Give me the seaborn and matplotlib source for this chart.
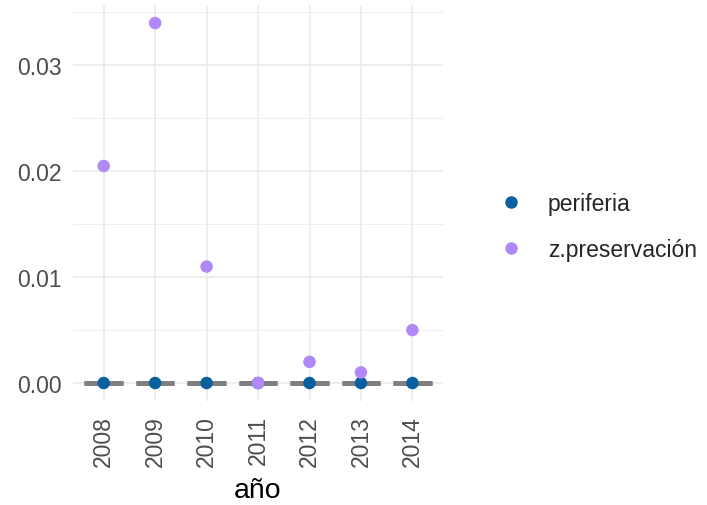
import pandas as pd
import matplotlib.pyplot as plt
import seaborn as sns

# data
years = ["2008", "2009", "2010", "2011", "2012", "2013", "2014"]
periferia = [0.0, 0.0, 0.0, 0.0, 0.0, 0.0, 0.0]
z_preservacion = [0.0205, 0.034, 0.011, 0.0, 0.002, 0.001, 0.005]
baseline = [0.0, 0.0, 0.0, 0.0, 0.0, 0.0, 0.0]

groups = ["periferia", "z.preservación"]
colors = ["#08609e", "#b088f8"]

df = pd.DataFrame({
    "año": years * 2,
    "valor": periferia + z_preservacion,
    "grupo": [groups[0]] * len(years) + [groups[1]] * len(years),
})
base_df = pd.DataFrame({"año": years, "valor": baseline})

sns.set_style("white")
plt.rcParams["font.family"] = ["Liberation Sans", "DejaVu Sans"]

fig = plt.figure(figsize=(7.07, 5.06), dpi=100)
ax = fig.add_axes([0.103, 0.2055, 0.524, 0.7825])

# grey flat boxes at zero
sns.boxplot(data=base_df, x="año", y="valor", order=years, width=0.75,
            color="#7f7f7f", linecolor="#7f7f7f", linewidth=3.4,
            showfliers=False, ax=ax, zorder=2)

sns.stripplot(data=df, x="año", y="valor", hue="grupo", order=years,
              hue_order=groups, palette=colors, jitter=False, size=9,
              linewidth=0, ax=ax, zorder=3)

ax.set_xlim(-0.6, len(years) - 0.4)
ax.set_ylim(-0.0017, 0.0357)
ax.set_yticks([0.0, 0.01, 0.02, 0.03])
ax.set_yticklabels(["0.00", "0.01", "0.02", "0.03"])
ax.set_yticks([0.005, 0.015, 0.025, 0.035], minor=True)

ax.grid(True, which="major", color="#ebebeb", linewidth=1.2)
ax.grid(True, which="minor", axis="y", color="#ebebeb", linewidth=0.6)
ax.set_axisbelow(True)
for s in ax.spines.values():
    s.set_visible(False)

ax.tick_params(axis="x", labelrotation=90, length=0, pad=10,
               labelsize=16.5, labelcolor="#4d4d4d")
ax.tick_params(axis="y", length=0, pad=8, labelsize=16.5, labelcolor="#4d4d4d")
ax.tick_params(axis="y", which="minor", length=0)
ax.set_xlabel("año", fontsize=20.5, color="black", labelpad=8)
ax.set_ylabel("")

handles, labels = ax.get_legend_handles_labels()
ax.legend(handles, labels, loc="center left", bbox_to_anchor=(1.066, 0.44),
          frameon=False, fontsize=16.5, handletextpad=0.6,
          labelspacing=1.0, markerscale=1.0)

fig.savefig("out.png", dpi=100)
